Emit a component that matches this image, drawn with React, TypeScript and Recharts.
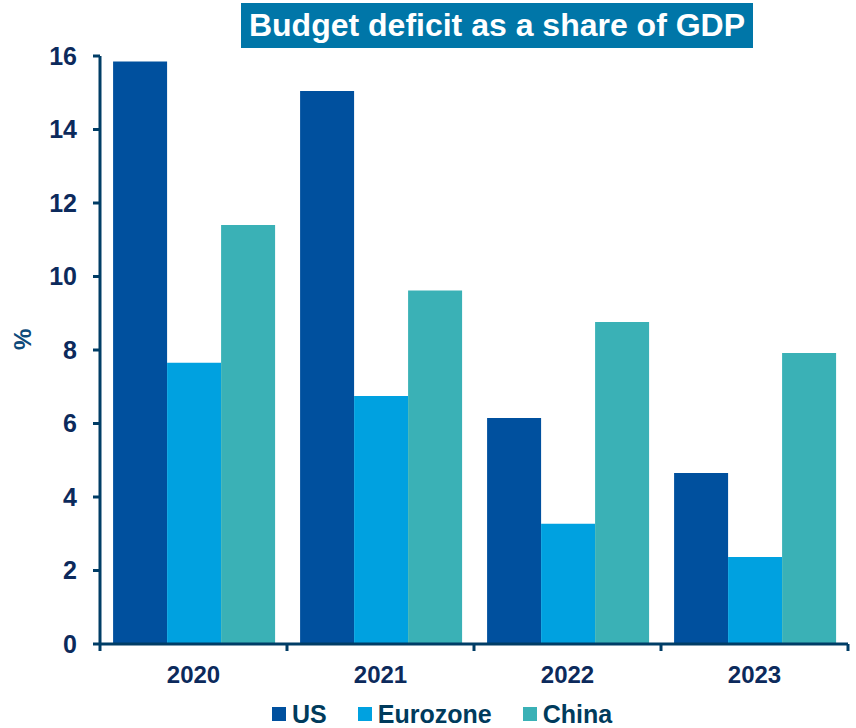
import { BarChart, Bar, XAxis, YAxis, Legend, ReferenceLine } from "recharts"

const years = ["2020", "2021", "2022", "2023"]
const us = [15.85, 15.05, 6.15, 4.65]
const eurozone = [7.65, 6.75, 3.27, 2.37]
const china = [11.4, 9.62, 8.76, 7.92]
const yTicks = [0, 2, 4, 6, 8, 10, 12, 14, 16]

const series = [
  { key: "us", name: "US", color: "#00509E" },
  { key: "eurozone", name: "Eurozone", color: "#00A1E0" },
  { key: "china", name: "China", color: "#3AB1B6" },
]

const data = years.map((year, i) => ({
  year,
  us: us[i],
  eurozone: eurozone[i],
  china: china[i],
}))

const axisColor = "#003D66"
const labelColor = "#0C2A5C"
const font = "'Liberation Sans', Arial, sans-serif"

// year label plus the small tick marks that sit on the category edges
function YearTick(props: any) {
  const { x, y, payload, index } = props
  const half = payload.offset || 0
  const last = index === years.length - 1
  return (
    <g>
      <line x1={x - half} x2={x - half} y1={y} y2={y + 7} stroke={axisColor} strokeWidth={3} />
      {last && <line x1={x + half} x2={x + half} y1={y} y2={y + 7} stroke={axisColor} strokeWidth={3} />}
      <text x={x} y={y + 39} textAnchor="middle" fill={labelColor} fontSize={24} fontWeight={700} fontFamily={font}>
        {payload.value}
      </text>
    </g>
  )
}

function LegendContent() {
  return (
    <div style={{ display: "flex", fontFamily: font, fontWeight: 700, fontSize: 25, color: "#003B5C", lineHeight: "28px" }}>
      {series.map(s => (
        <div key={s.key} style={{ display: "flex", alignItems: "center", marginRight: 31 }}>
          <span style={{ width: 14, height: 14, background: s.color, display: "inline-block", marginRight: 6 }} />
          {s.name}
        </div>
      ))}
    </div>
  )
}

export default function App() {
  return (
    <div style={{ position: "absolute", left: 0, top: 0, width: 856, height: 728, background: "#fff" }}>
      <div
        style={{
          position: "absolute",
          left: 241,
          top: 3,
          width: 512,
          height: 45,
          background: "#0076A8",
          color: "#fff",
          fontFamily: font,
          fontWeight: 700,
          fontSize: 32,
          lineHeight: "45px",
          textAlign: "center",
          zIndex: 2,
        }}
      >
        Budget deficit as a share of GDP
      </div>
      <BarChart
        width={856}
        height={728}
        data={data}
        margin={{ top: 56, right: 8, left: 0, bottom: 0 }}
        barCategoryGap="7%"
        barGap={0}
      >
        <XAxis
          dataKey="year"
          axisLine={false}
          tickLine={false}
          tickSize={0}
          tickMargin={0}
          tick={<YearTick />}
          interval={0}
          height={56}
        />
        <YAxis
          domain={[0, 16]}
          ticks={yTicks}
          width={100}
          axisLine={{ stroke: axisColor, strokeWidth: 3 }}
          tickLine={{ stroke: axisColor, strokeWidth: 3 }}
          tickSize={7}
          tickMargin={16}
          tick={{ fill: labelColor, fontSize: 25, fontWeight: 700, fontFamily: font }}
          label={{ value: "%", angle: -90, position: "insideLeft", offset: 22, fill: "#0E4A7A", fontSize: 24, fontWeight: 700, fontFamily: font }}
        />
        <Legend
          verticalAlign="bottom"
          height={28}
          content={<LegendContent />}
          wrapperStyle={{ left: 272, width: "auto", bottom: 0 }}
        />
        {series.map(s => (
          <Bar key={s.key} dataKey={s.key} name={s.name} fill={s.color} isAnimationActive={false} />
        ))}
        <ReferenceLine y={0} stroke={axisColor} strokeWidth={3} />
      </BarChart>
    </div>
  )
}
